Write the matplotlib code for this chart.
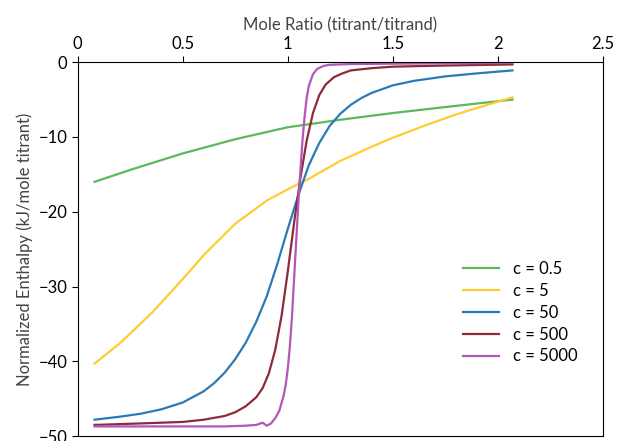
import numpy as np
import matplotlib.pyplot as plt

plt.rcParams['font.family'] = ['Lato', 'DejaVu Sans']

x_green = [0.08, 0.25, 0.5, 0.75, 1.0, 1.25, 1.5, 1.75, 2.07]
y_green = [-16.0, -14.4, -12.2, -10.3, -8.7, -7.7, -6.8, -6.0, -5.0]

x_yellow = [0.08, 0.2, 0.35, 0.5, 0.6, 0.75, 0.9, 1.0, 1.1, 1.25, 1.4, 1.5, 1.65, 1.8, 1.95, 2.07]
y_yellow = [-40.3, -37.6, -33.6, -29.0, -25.8, -21.6, -18.5, -17.0, -15.6, -13.2, -11.3, -10.1, -8.5, -7.0, -5.7, -4.7]

x_blue = [0.08, 0.2, 0.3, 0.4, 0.5, 0.6, 0.65, 0.7, 0.75, 0.8, 0.85, 0.9, 0.95, 1.0, 1.05, 1.1, 1.15, 1.2,
          1.25, 1.3, 1.35, 1.4, 1.5, 1.6, 1.75, 1.9, 2.07]
y_blue = [-47.8, -47.4, -47.0, -46.4, -45.5, -44.0, -42.9, -41.5, -39.7, -37.5, -34.7, -31.3, -27.0, -22.3, -17.8,
          -13.8, -10.8, -8.5, -6.9, -5.7, -4.8, -4.1, -3.1, -2.5, -1.9, -1.5, -1.1]

x_red = [0.08, 0.3, 0.5, 0.6, 0.7, 0.75, 0.8, 0.85, 0.88, 0.91, 0.94, 0.97, 1.0, 1.03, 1.06, 1.09, 1.12,
         1.15, 1.18, 1.22, 1.26, 1.3, 1.4, 1.5, 1.75, 2.07]
y_red = [-48.5, -48.3, -48.1, -47.8, -47.3, -46.8, -46.0, -44.8, -43.6, -41.6, -38.5, -34.0, -28.0, -21.5, -15.5,
         -10.5, -6.8, -4.4, -3.0, -2.0, -1.5, -1.1, -0.8, -0.6, -0.45, -0.3]

x_purple = [0.08, 0.5, 0.7, 0.8, 0.85, 0.88, 0.9, 0.92, 0.94, 0.96, 0.98, 0.99, 1.0, 1.01, 1.02, 1.03, 1.04, 1.05,
            1.06, 1.07, 1.08, 1.09, 1.1, 1.12, 1.14, 1.17, 1.2, 1.3, 1.5, 2.07]
y_purple = [-48.7, -48.7, -48.7, -48.6, -48.5, -48.2, -48.6, -48.3, -47.6, -46.6, -44.6, -43.2, -41.0, -38.0,
            -34.0, -29.0, -24.0, -19.0, -14.5, -10.5, -7.3, -4.8, -3.2, -1.6, -0.9, -0.5, -0.35, -0.25, -0.2, -0.1]

fig = plt.figure(figsize=(6.17, 4.41), dpi=100)
ax = fig.add_axes([0.126, 0.011, 0.851, 0.848])
ax.plot(x_green, y_green, color='#5cb85c', lw=1.6, label='c = 0.5')
ax.plot(x_yellow, y_yellow, color='#ffcc33', lw=1.6, label='c = 5')
ax.plot(x_blue, y_blue, color='#2a7ab5', lw=1.6, label='c = 50')
ax.plot(x_red, y_red, color='#8b2b3b', lw=1.6, label='c = 500')
ax.plot(x_purple, y_purple, color='#b455b8', lw=1.6, label='c = 5000')

ax.set_xlim(0, 2.5)
ax.set_ylim(-50, 0)
ax.xaxis.tick_top()
ax.xaxis.set_label_position('top')
ax.set_xticks([0, 0.5, 1, 1.5, 2, 2.5])
ax.set_xticklabels(['0', '0.5', '1', '1.5', '2', '2.5'])
ax.set_yticks([0, -10, -20, -30, -40, -50])
ax.tick_params(labelsize=12, direction='out', length=4)
ax.set_xlabel('Mole Ratio (titrant/titrand)', fontsize=12, color='#444444')
ax.set_ylabel('Normalized Enthalpy (kJ/mole titrant)', fontsize=12, color='#444444')
ax.legend(loc='center right', bbox_to_anchor=(0.98, 0.33), frameon=False, fontsize=12,
          handlelength=2.2, labelspacing=0.35)
fig.savefig('out.png')
